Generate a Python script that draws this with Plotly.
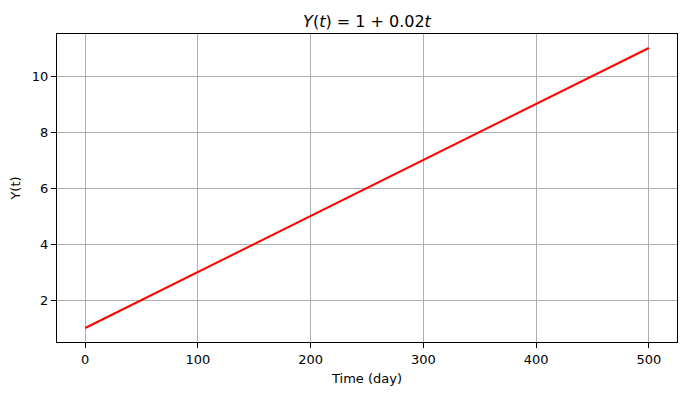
import plotly.graph_objects as go

# Values
time_days = [0, 100, 200, 300, 400, 500]
y_values = [1, 3, 5, 7, 9, 11]
x_ticks = [0, 100, 200, 300, 400, 500]
y_ticks = [2, 4, 6, 8, 10]

FONT = "DejaVu Sans"

fig = go.Figure()
fig.add_trace(go.Scatter(x=time_days, y=y_values, mode="lines",
                         line=dict(color="red", width=2), showlegend=False))

axis_common = dict(
    showline=True, linecolor="black", linewidth=1, mirror=True,
    ticks="outside", ticklen=5, tickwidth=1, tickcolor="black",
    showgrid=True, gridcolor="#b0b0b0", gridwidth=1,
    zeroline=False,
    tickfont=dict(family=FONT, size=13, color="black"),
)

fig.update_layout(
    width=686, height=395,
    margin=dict(l=49, r=17, t=26, b=61, autoexpand=False),
    paper_bgcolor="white", plot_bgcolor="white",
    font=dict(family=FONT, color="black"),
    title=dict(text="<i>Y</i>(<i>t</i>) = 1 + 0.02<i>t</i>",
               x=0.5, xref="paper", xanchor="center",
               y=1, yref="container", yanchor="top", pad=dict(t=8),
               font=dict(family=FONT, size=16, color="black")),
    xaxis=dict(range=[-25, 525], tickvals=x_ticks,
               title=dict(text="Time (day)", font=dict(family=FONT, size=13), standoff=8),
               **axis_common),
    yaxis=dict(range=[0.5, 11.5], tickvals=y_ticks,
               title=dict(text="Y(t)", font=dict(family=FONT, size=13), standoff=8),
               **axis_common),
)

fig.write_html("out.html")
